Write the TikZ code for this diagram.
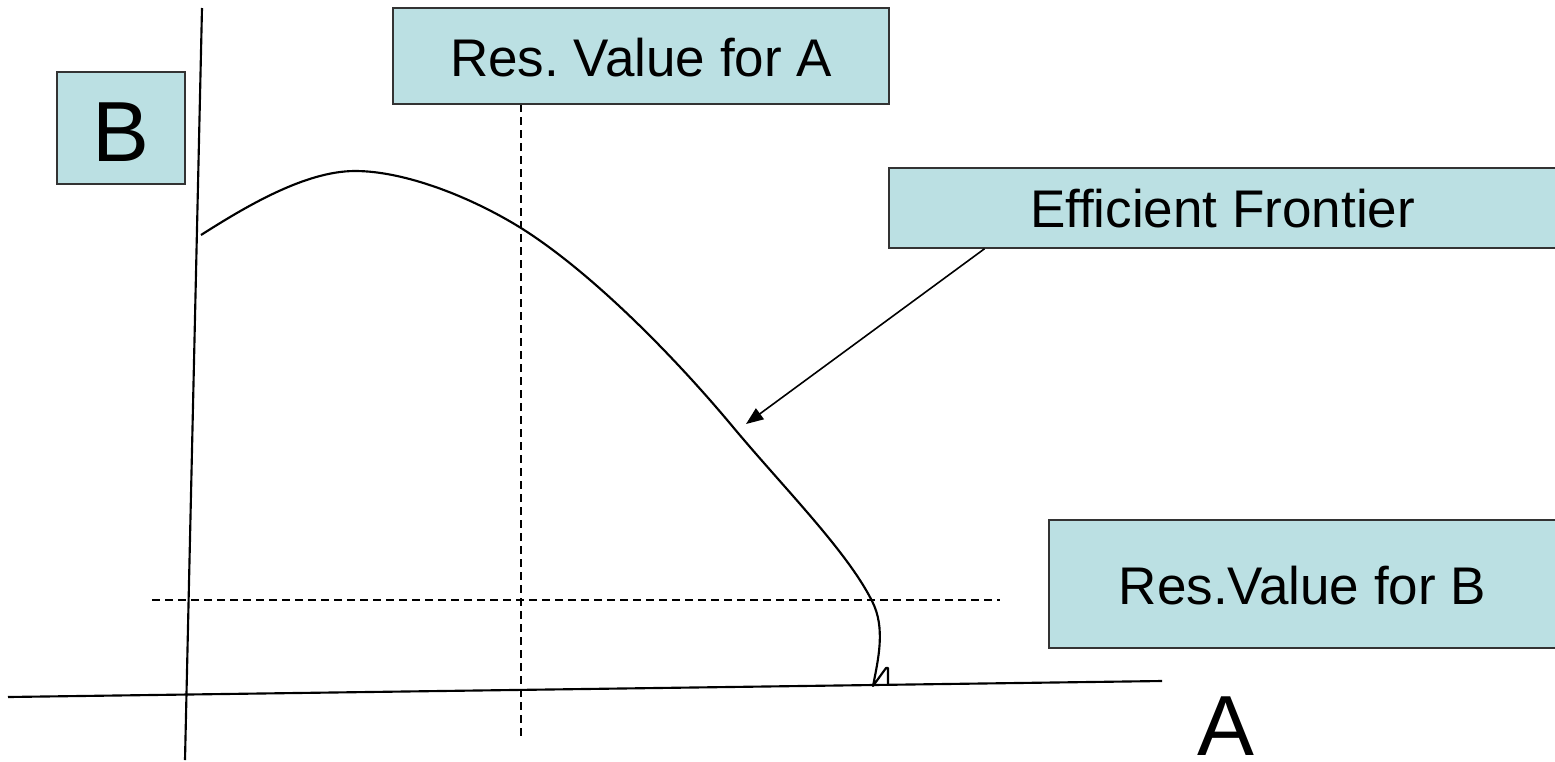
\documentclass[tikz,border=0pt]{standalone}
\usepackage{fontspec}
\setmainfont{Liberation Sans}
\usetikzlibrary{arrows.meta,calc}
\definecolor{boxfill}{HTML}{BBE0E3}
\definecolor{boxline}{HTML}{333333}
\frenchspacing
\begin{document}
\begin{tikzpicture}[x=0.75pt,y=-0.75pt,
  labelbox/.style={draw=boxline,line width=1.1pt,fill=boxfill,rectangle,inner sep=0pt,
    font=\fontsize{39.75pt}{46pt}\selectfont,text depth=0pt},
  bigfont/.style={font=\fontsize{64pt}{72pt}\selectfont},
  axis/.style={line width=1.6pt,black},
  guide/.style={line width=1.1pt,dash pattern=on 6pt off 3.75pt},
  frontier/.style={line width=1.6pt,line join=round},
  pointer/.style={line width=1.2pt,-{Triangle[length=13pt,width=10pt]}}]
\useasboundingbox (0,0) rectangle (1555,761);

% axes
\coordinate (ytop) at (202,8);
\coordinate (ybot) at (185,760);
\coordinate (xl) at (8,697);
\coordinate (xr) at (1162,681);
\draw[axis] (ytop) -- (ybot);
\draw[axis] (xl) -- (xr);

% reservation value guides
\coordinate (vtop) at (521,104);
\coordinate (vbot) at (521,740);
\coordinate (hl) at (152,600);
\coordinate (hr) at (1000,600);
\draw[guide] (vtop) -- (vbot);
\draw[guide] (hl) -- (hr);

% efficient frontier
\draw[frontier] (201,235)
  .. controls (245,207) and (305,171) .. (355,171)
  .. controls (405,171) and (471,197) .. (521,228)
  .. controls (591,272) and (673,355) .. (733,427)
  .. controls (783,487) and (847,551) .. (872,601)
  .. controls (886,628) and (878,660) .. (873,686)
  -- (886,668) -- (888,668) -- (888,684);
\coordinate (tip) at (746,424);

% labels
\node[labelbox,bigfont,minimum width=96pt,minimum height=84pt,text height=49.5pt] (lb) at (121,128) {B};
\node[labelbox,minimum width=372pt,minimum height=72pt,text height=30pt] (ra) at (641,56) {Res. Value for A};
\node[labelbox,minimum width=500.25pt,minimum height=60pt,text height=28.5pt] (ef) at (1222.5,208) {Efficient Frontier};
\node[labelbox,minimum width=380.25pt,minimum height=96pt,text height=30pt] (rb) at (1302.5,584) {Res.Value for B};
\node[bigfont,inner sep=0pt,anchor=base] (la) at (1225.5,755) {A};

\draw[pointer] ($(ef.south west)!0.144!(ef.south east)$) -- (tip);
\end{tikzpicture}
\end{document}
